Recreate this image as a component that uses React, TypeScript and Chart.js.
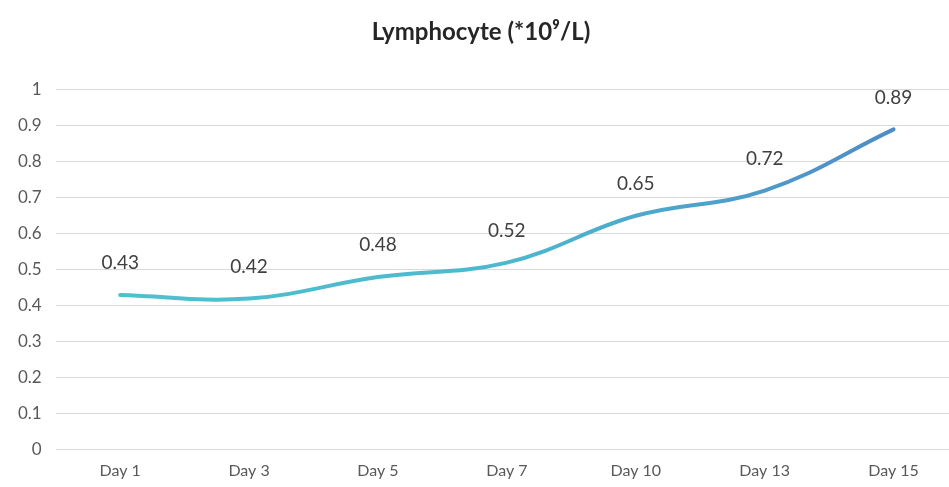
import React, { useEffect, useRef } from "react";
import { Chart, registerables } from "chart.js";

Chart.register(...registerables);

const categories = ["Day 1", "Day 3", "Day 5", "Day 7", "Day 10", "Day 13", "Day 15"];
const lymphocyte = [0.43, 0.42, 0.48, 0.52, 0.65, 0.72, 0.89];
const yTicks = [0, 0.1, 0.2, 0.3, 0.4, 0.5, 0.6, 0.7, 0.8, 0.9, 1];
const titleText = "Lymphocyte (*10\u2079/L)";

const FONT = "Lato, 'Open Sans', sans-serif";

const dataLabels = {
  id: "dataLabels",
  afterDatasetsDraw(chart: any) {
    const ctx = chart.ctx;
    const meta = chart.getDatasetMeta(0);
    const ds = chart.data.datasets[0];
    ctx.save();
    ctx.font = `19px ${FONT}`;
    ctx.fillStyle = "#404040";
    ctx.textAlign = "center";
    ctx.textBaseline = "middle";
    meta.data.forEach((pt: any, i: number) => {
      ctx.fillText(String(ds.data[i]), pt.x, pt.y - 32);
    });
    ctx.restore();
  },
};

export default function App() {
  const ref = useRef<HTMLCanvasElement | null>(null);
  useEffect(() => {
    if (!ref.current) return;
    const chart = new Chart(ref.current, {
      type: "line",
      data: {
        labels: categories,
        datasets: [
          {
            data: lymphocyte,
            borderWidth: 4,
            tension: 0.4,
            pointRadius: 0,
            fill: false,
            borderCapStyle: "round",
            borderColor: (c: any) => {
              const { chart } = c;
              const area = chart.chartArea;
              if (!area) return "#4fb0cc";
              const g = chart.ctx.createLinearGradient(area.left, 0, area.right, 0);
              g.addColorStop(0, "#4cc3cc");
              g.addColorStop(0.5, "#4db8d0");
              g.addColorStop(1, "#4f84c4");
              return g;
            },
          },
        ],
      },
      options: {
        animation: false,
        responsive: false,
        layout: { padding: { left: 4, right: 0, top: 0, bottom: 4 } },
        plugins: {
          legend: { display: false },
          tooltip: { enabled: false },
          title: {
            display: true,
            text: titleText,
            color: "#262626",
            font: { family: FONT, size: 24, weight: "bold" },
            padding: { top: 18, bottom: 43 },
          },
        },
        scales: {
          x: {
            offset: true,
            grid: { display: false },
            border: { display: false },
            ticks: {
              color: "#595959",
              font: { family: FONT, size: 16 },
              padding: 3,
            },
          },
          y: {
            min: 0,
            max: 1,
            afterBuildTicks: (axis: any) => {
              axis.ticks = yTicks.map((v) => ({ value: v }));
            },
            grid: { color: "#d9d9d9", drawTicks: false, lineWidth: 1 },
            border: { display: false },
            ticks: {
              color: "#595959",
              font: { family: FONT, size: 17 },
              padding: 14,
              callback: (v: any) => String(Math.round(Number(v) * 10) / 10),
            },
          },
        },
      },
      plugins: [dataLabels],
    });
    return () => chart.destroy();
  }, []);
  return (
    <div
      style={{
        position: "fixed",
        left: 0,
        top: 0,
        width: 949,
        height: 487,
        overflow: "hidden",
        background: "#ffffff",
      }}
    >
      <canvas ref={ref} width={958} height={487} style={{ display: "block" }} />
    </div>
  );
}
